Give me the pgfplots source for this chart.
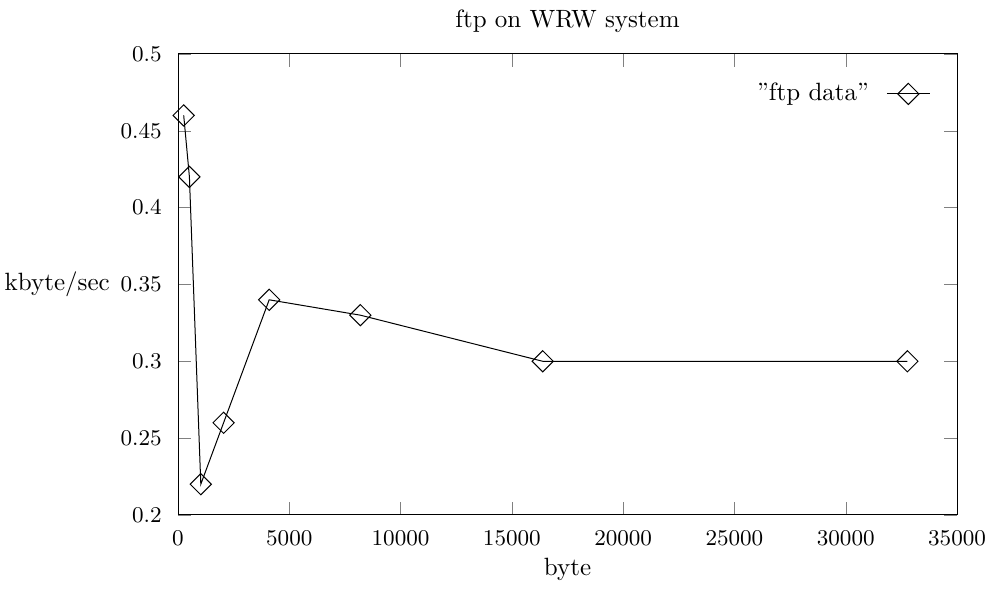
\documentclass[border=0pt]{standalone}
\usepackage{pgfplots}
\pgfplotsset{compat=1.18}
\begin{document}
\begin{tikzpicture}
\begin{axis}[
    scale only axis,
    width=311.6pt,
    height=184.4pt,
    xmin=0, xmax=35000,
    ymin=0.2, ymax=0.5,
    xtick={0,5000,...,35000},
    ytick={0.2,0.25,0.3,0.35,0.4,0.45,0.5},
    scaled ticks=false,
    tick label style={font=\fontsize{9.4}{11}\selectfont},
    xticklabel style={/pgf/number format/set thousands separator={}, yshift=-3pt, inner xsep=0pt},
    yticklabel style={/pgf/number format/fixed, xshift=-3pt},
    tick align=inside,
    tick pos=both,
    major tick length=5.2pt,
    title={ftp on WRW system},
    title style={yshift=-1pt},
    xlabel={byte},
    xlabel style={yshift=2pt},
    ylabel={kbyte/sec},
    every axis y label/.style={at={(axis description cs:-0.087,0.5)},anchor=east,inner xsep=0pt},
    legend style={draw=none, fill=none, at={(axis cs:34150,0.474)}, anchor=east, column sep=5pt},
    legend cell align=right,
    legend plot pos=right,
    clip=false,
]
\addplot[black, thin, mark=square, mark size=3pt, mark options={rotate=45, solid}]
    coordinates {
    (256,0.46) (512,0.42) (1024,0.22) (2048,0.26) (4096,0.34) (8192,0.33) (16384,0.30) (32768,0.30)
};
\legend{''ftp data''}
\path (rel axis cs:-0.2285,-0.1475) (rel axis cs:1.041,1.117);
\end{axis}
\end{tikzpicture}
\end{document}
